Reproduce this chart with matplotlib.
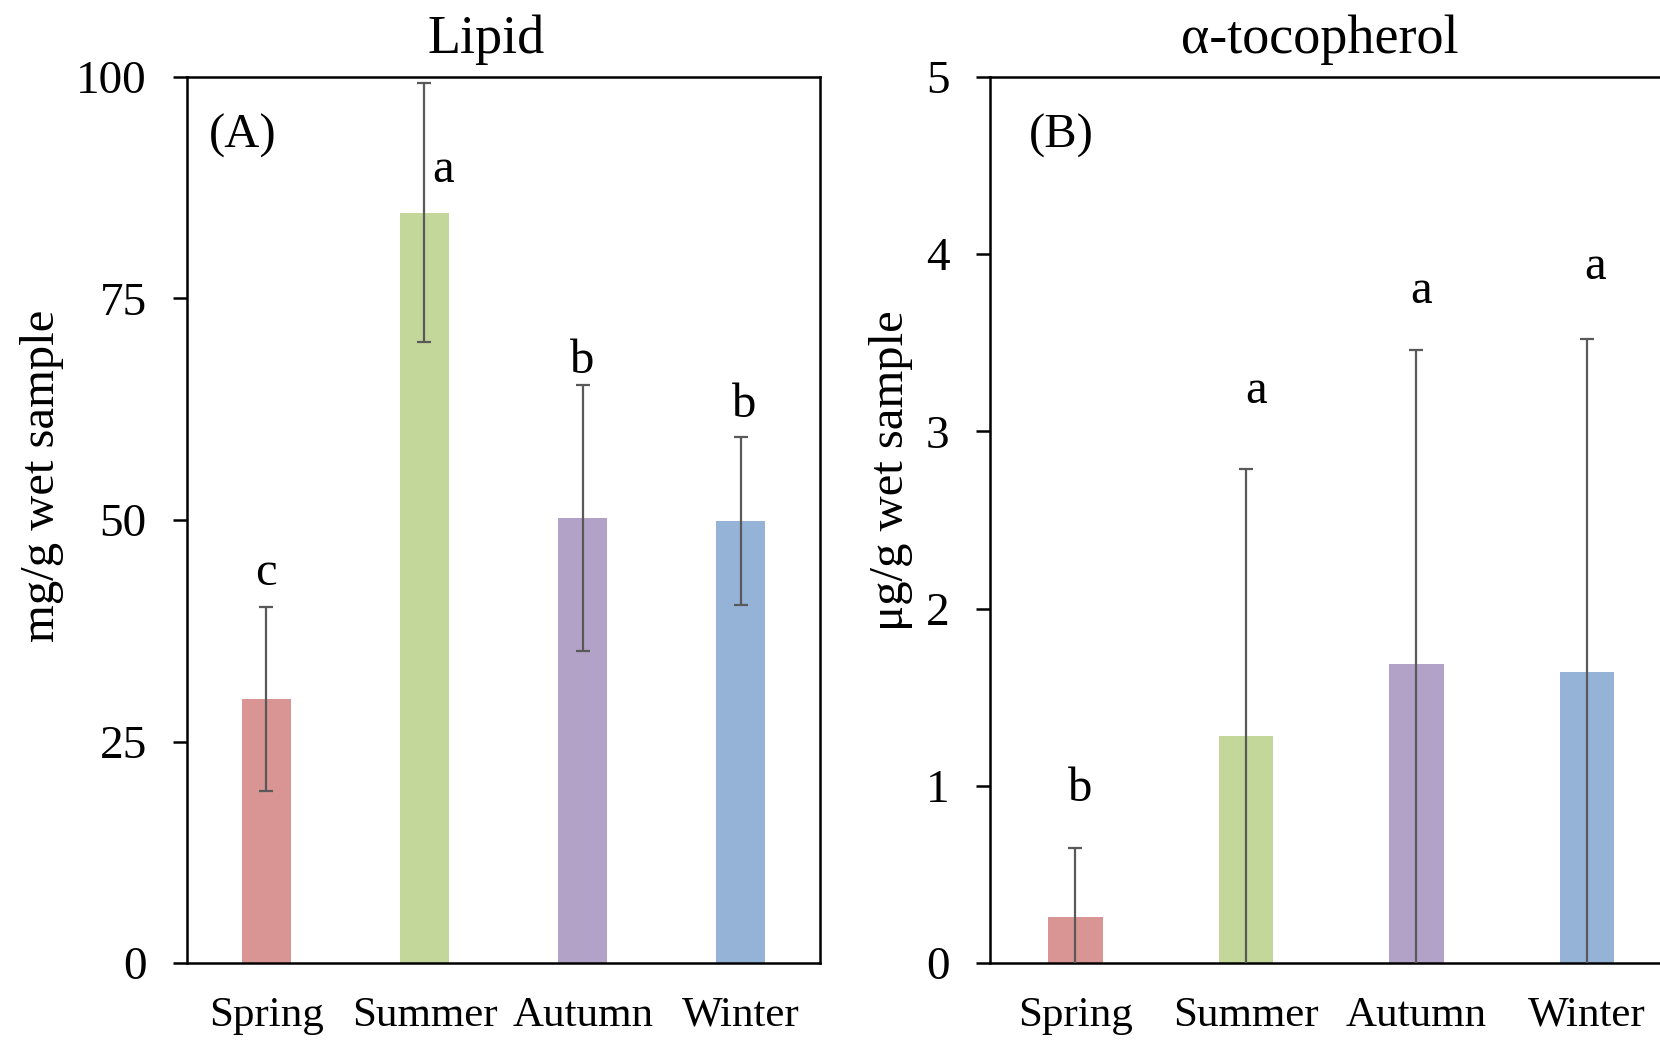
import matplotlib
matplotlib.use("Agg")
import matplotlib.pyplot as plt
import numpy as np

plt.rcParams['font.family'] = ['Liberation Serif', 'DejaVu Serif']

seasons = ["Spring", "Summer", "Autumn", "Winter"]
colors = ["#D99594", "#C4D79B", "#B2A2C7", "#95B3D7"]

# Lipid content (mg/g wet sample)
lipid_mean = [29.8, 84.7, 50.2, 49.9]
lipid_sd = [10.4, 14.6, 15.0, 9.5]
lipid_letters = ["c", "a", "b", "b"]
lipid_letter_x = [0.0, 1.12, 2.0, 3.02]
lipid_letter_y = [44.0, 89.5, 68.0, 63.0]

# alpha-tocopherol content (ug/g wet sample)
toco_mean = [0.26, 1.28, 1.69, 1.64]
toco_sd = [0.39, 1.51, 1.77, 1.88]
toco_letters = ["b", "a", "a", "a"]
toco_letter_x = [0.03, 1.06, 2.03, 3.05]
toco_letter_y = [0.98, 3.23, 3.79, 3.93]

fig = plt.figure(figsize=(16.6, 10.4), dpi=100)
ax1 = fig.add_axes([0.1127, 0.074, 0.3813, 0.852])
ax2 = fig.add_axes([0.5964, 0.074, 0.411, 0.852])


def draw_panel(ax, means, sds, letters, lx, ly, ymax, yticks, title, title_x,
               ylabel, ylabel_xy, tag, tag_xy, width):
    x = np.arange(len(seasons))
    ax.bar(x, means, width=width, color=colors, zorder=2)
    ax.errorbar(x, means, yerr=sds, fmt="none", ecolor="#595959",
                elinewidth=1.6, capsize=5, capthick=1.6, zorder=3)
    for xi, yi, t in zip(lx, ly, letters):
        ax.text(xi, yi, t, ha="center", va="center", fontsize=35)
    ax.text(tag_xy[0], tag_xy[1], tag, ha="center", va="center", fontsize=35)
    ax.set_xlim(-0.5, len(seasons) - 0.5)
    ax.set_ylim(0, ymax)
    ax.set_yticks(yticks)
    ax.set_xticks(x)
    ax.set_xticklabels(seasons, fontsize=31)
    ax.tick_params(axis="x", length=0, pad=24)
    ax.tick_params(axis="y", direction="out", length=10, width=1.8, labelsize=34, pad=19)
    for s in ax.spines.values():
        s.set_linewidth(1.8)
    ax.set_title(title, fontsize=39, pad=17, x=title_x)
    ax.set_ylabel(ylabel, fontsize=35)
    ax.yaxis.set_label_coords(*ylabel_xy)
    ax.yaxis.label.set_verticalalignment("center")


draw_panel(ax1, lipid_mean, lipid_sd, lipid_letters, lipid_letter_x, lipid_letter_y,
           100, [0, 25, 50, 75, 100], "Lipid", 0.472,
           "mg/g wet sample", (-0.229, 0.55), "(A)", (-0.15, 93.4), 0.31)
draw_panel(ax2, toco_mean, toco_sd, toco_letters, toco_letter_x, toco_letter_y,
           5, [0, 1, 2, 3, 4, 5], "α-tocopherol", 0.483,
           "μg/g wet sample", (-0.145, 0.556), "(B)", (-0.08, 4.67), 0.32)

fig.savefig("out.png", dpi=100)
